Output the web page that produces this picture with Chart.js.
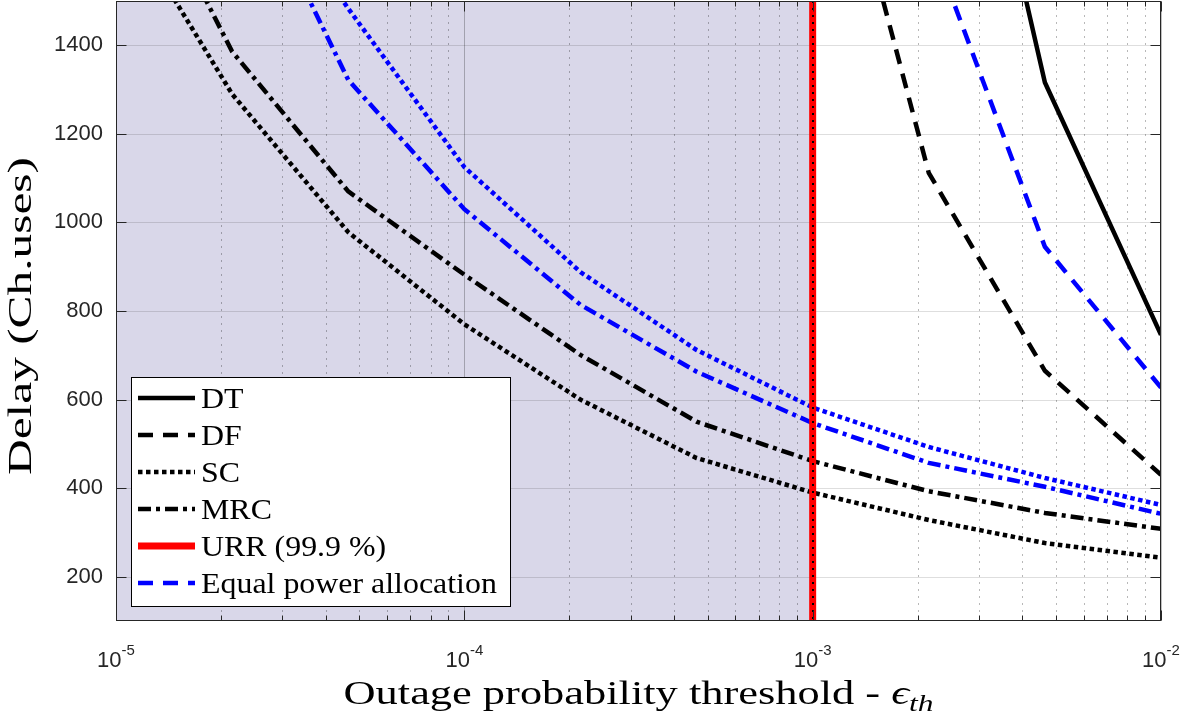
<!DOCTYPE html>
<html>
<head>
<meta charset="utf-8">
<script src="https://cdn.jsdelivr.net/npm/chart.js@4.4.1/dist/chart.umd.min.js"></script>
<style>
  html, body { margin: 0; padding: 0; background: #fff; }
</style>
</head>
<body>
<canvas id="delayChart" width="1181" height="716"></canvas>
<script>
// outage probability thresholds (x axis, log spaced)
var thresholds = [1e-5, 2.154e-5, 4.642e-5, 1e-4, 2.154e-4, 4.642e-4, 1e-3, 2.154e-3, 4.642e-3, 1e-2];

// delay in channel uses (null = far above the plot)
var delayDT  = [null, null, null, null, null, null, null, 2460, 1316, 746];
var delayDF  = [null, null, null, null, null, null, 2100, 1112, 665, 430];
var delaySC  = [1720, 1290, 978, 770, 600, 468, 390, 328, 276, 243];
var delayMRC = [1900, 1386, 1070, 882, 701, 550, 461, 393, 344, 308];

// equal power allocation variants
var delayEqDF  = [null, null, null, null, null, null, null, 1647, 945, 627];
var delayEqSC  = [null, 1870, 1483, 1125, 888, 712, 582, 493, 423, 362];
var delayEqMRC = [null, 1860, 1322, 1030, 814, 663, 547, 457, 403, 342];

var urrThreshold = 1e-3;
var urrSpan = [100, 1500];
var yTicks = [200, 400, 600, 800, 1000, 1200, 1400];
var xDecades = [1e-5, 1e-4, 1e-3, 1e-2];
var xExponents = ['-5', '-4', '-3', '-2'];

var DASH = [15, 10];
var DOT = [4.5, 3.5];
var DASHDOT = [13, 5, 4, 5];

function series(label, values, color, dash, extra) {
    return Object.assign({
        label: label,
        data: thresholds.map(function(t, i) { return {x: t, y: values[i]}; }),
        borderColor: color,
        borderWidth: 4.5,
        borderDash: dash,
        borderCapStyle: 'butt',
        pointRadius: 0,
        tension: 0,
        fill: false,
        clip: 0
    }, extra || {});
}

var datasets = [
    {
        label: 'URR (99.9 %)',
        data: urrSpan.map(function(v) { return {x: urrThreshold, y: v}; }),
        borderColor: '#ff0000',
        borderWidth: 7,
        pointRadius: 0,
        clip: 0,
        order: -1,
        legendPos: 4
    },
    series('DT', delayDT, '#000000', [], {legendPos: 0}),
    series('DF', delayDF, '#000000', DASH, {legendPos: 1}),
    series('SC', delaySC, '#000000', DOT, {legendPos: 2}),
    series('MRC', delayMRC, '#000000', DASHDOT, {legendPos: 3}),
    series('Equal power allocation', delayEqDF, '#0000ff', DASH, {legendPos: 5}),
    series('Equal power allocation (SC)', delayEqSC, '#0000ff', DOT),
    series('Equal power allocation (MRC)', delayEqMRC, '#0000ff', DASHDOT)
];

var axisColor = '#262626';

// background shading, grid lines, box, labels, legend
var gridPlugin = {
    id: 'gridPlugin',
    beforeDatasetsDraw: function(chart) {
        var ctx = chart.ctx, a = chart.chartArea;
        var xs = chart.scales.x, ys = chart.scales.y;
        ctx.save();
        ctx.fillStyle = '#ffffff';
        ctx.fillRect(a.left, a.top, a.right - a.left, a.bottom - a.top);

        // region below the URR target
        var s0 = xs.getPixelForValue(xDecades[0]);
        var s1 = xs.getPixelForValue(urrThreshold);
        ctx.fillStyle = '#d9d7e9';
        ctx.fillRect(s0, a.top, s1 - s0, a.bottom - a.top);

        // horizontal grid
        ctx.strokeStyle = 'rgba(0,0,0,0.13)';
        ctx.lineWidth = 1;
        yTicks.forEach(function(v) {
            var py = Math.round(ys.getPixelForValue(v)) + 0.5;
            ctx.beginPath();
            ctx.moveTo(a.left, py);
            ctx.lineTo(a.right, py);
            ctx.stroke();
        });

        // minor vertical grid (dotted)
        ctx.strokeStyle = 'rgba(0,0,0,0.28)';
        ctx.setLineDash([2, 5]);
        for (var d = 0; d < xDecades.length - 1; d++) {
            for (var m = 2; m <= 9; m++) {
                var px = Math.round(xs.getPixelForValue(m * xDecades[d])) + 0.5;
                ctx.beginPath();
                ctx.moveTo(px, a.top);
                ctx.lineTo(px, a.bottom);
                ctx.stroke();
            }
        }
        // major vertical grid
        ctx.setLineDash([]);
        ctx.strokeStyle = 'rgba(0,0,0,0.25)';
        xDecades.forEach(function(v) {
            var px = Math.round(xs.getPixelForValue(v)) + 0.5;
            ctx.beginPath();
            ctx.moveTo(px, a.top);
            ctx.lineTo(px, a.bottom);
            ctx.stroke();
        });
        ctx.restore();
    },
    afterDatasetsDraw: function(chart) {
        var ctx = chart.ctx, a = chart.chartArea;
        var xs = chart.scales.x, ys = chart.scales.y;
        ctx.save();

        // grid line drawn over the URR marker
        var ux = Math.round(xs.getPixelForValue(urrThreshold));
        ctx.strokeStyle = '#000';
        ctx.lineWidth = 2;
        ctx.setLineDash([2, 5]);
        ctx.beginPath();
        ctx.moveTo(ux, a.top);
        ctx.lineTo(ux, a.bottom);
        ctx.stroke();
        ctx.setLineDash([]);

        // axes box
        ctx.strokeStyle = axisColor;
        ctx.lineWidth = 1;
        var L = Math.round(a.left) + 0.5, R = Math.round(a.right) - 0.5;
        var T = Math.round(a.top) + 0.5, B = Math.round(a.bottom) - 0.5;
        ctx.strokeRect(L, T, R - L, B - T);

        // tick marks pointing inward
        ctx.beginPath();
        yTicks.forEach(function(v) {
            var py = Math.round(ys.getPixelForValue(v)) + 0.5;
            ctx.moveTo(L, py); ctx.lineTo(L + 10, py);
            ctx.moveTo(R, py); ctx.lineTo(R - 10, py);
        });
        for (var d = 0; d < xDecades.length; d++) {
            var px = Math.round(xs.getPixelForValue(xDecades[d])) + 0.5;
            ctx.moveTo(px, B); ctx.lineTo(px, B - 10);
            ctx.moveTo(px, T); ctx.lineTo(px, T + 10);
            if (d < xDecades.length - 1) {
                for (var m = 2; m <= 9; m++) {
                    var mx = Math.round(xs.getPixelForValue(m * xDecades[d])) + 0.5;
                    ctx.moveTo(mx, B); ctx.lineTo(mx, B - 5);
                    ctx.moveTo(mx, T); ctx.lineTo(mx, T + 5);
                }
            }
        }
        ctx.stroke();

        // x tick labels 10^n
        ctx.fillStyle = axisColor;
        ctx.textAlign = 'left';
        ctx.textBaseline = 'alphabetic';
        xDecades.forEach(function(v, i) {
            ctx.font = '22px "Liberation Sans", Arial, sans-serif';
            var bw = ctx.measureText('10').width;
            ctx.font = '15px "Liberation Sans", Arial, sans-serif';
            var ew = ctx.measureText(xExponents[i]).width;
            var px = xs.getPixelForValue(v);
            var start = px - (bw + ew) / 2;
            ctx.font = '22px "Liberation Sans", Arial, sans-serif';
            ctx.fillText('10', start, 667);
            ctx.font = '15px "Liberation Sans", Arial, sans-serif';
            ctx.fillText(xExponents[i], start + bw, 655);
        });

        // x axis label
        ctx.fillStyle = '#000';
        var parts = [
            {t: 'Outage probability threshold - ', font: '34px "Liberation Serif", serif', dy: 0},
            {t: '\u03F5', font: 'italic 34px "Liberation Serif", "DejaVu Serif", serif', dy: 0},
            {t: 'th', font: 'italic 24px "Liberation Serif", serif', dy: 7}
        ];
        var tw = 0;
        parts.forEach(function(p) { ctx.font = p.font; p.w = ctx.measureText(p.t).width; tw += p.w; });
        var targetW = 590;
        ctx.save();
        ctx.translate((a.left + a.right) / 2 - targetW / 2, 704);
        ctx.scale(targetW / tw, 1);
        var xx = 0;
        parts.forEach(function(p) { ctx.font = p.font; ctx.fillText(p.t, xx, p.dy); xx += p.w; });
        ctx.restore();

        // y axis label
        ctx.save();
        ctx.translate(31, 316);
        ctx.rotate(-Math.PI / 2);
        ctx.font = '33px "Liberation Serif", serif';
        var yl = 'Delay (Ch.uses)';
        var yw = ctx.measureText(yl).width;
        ctx.scale(318 / yw, 1);
        ctx.textAlign = 'center';
        ctx.fillText(yl, 0, 0);
        ctx.restore();

        // legend box
        var lg = {x: 131.5, y: 377.5, w: 379, h: 229};
        ctx.fillStyle = '#fff';
        ctx.fillRect(lg.x, lg.y, lg.w, lg.h);
        ctx.strokeStyle = '#000';
        ctx.lineWidth = 1;
        ctx.strokeRect(lg.x, lg.y, lg.w, lg.h);

        var entries = chart.data.datasets.filter(function(ds) { return ds.legendPos !== undefined; })
            .sort(function(p, q) { return p.legendPos - q.legendPos; });
        entries.forEach(function(ds, i) {
            var cy = 398 + i * 37;
            ctx.strokeStyle = ds.borderColor;
            ctx.lineWidth = ds.borderWidth;
            ctx.lineCap = 'butt';
            ctx.setLineDash(ds.borderDash || []);
            ctx.beginPath();
            ctx.moveTo(138, cy);
            ctx.lineTo(195, cy);
            ctx.stroke();
            ctx.setLineDash([]);
            ctx.save();
            ctx.translate(201, cy + 9.5);
            ctx.scale(1.1, 1);
            ctx.fillStyle = '#000';
            ctx.font = '29px "Liberation Serif", serif';
            ctx.fillText(ds.label, 0, 0);
            ctx.restore();
        });
        ctx.restore();
    }
};

var ctx = document.getElementById('delayChart').getContext('2d');
var delayChart = new Chart(ctx, {
    type: 'line',
    data: { datasets: datasets },
    options: {
        responsive: false,
        animation: false,
        devicePixelRatio: 1,
        layout: { padding: { left: 0, right: 20, top: 1, bottom: 0 } },
        plugins: {
            legend: { display: false },
            tooltip: { enabled: false }
        },
        scales: {
            x: {
                type: 'logarithmic',
                min: 1e-5,
                max: 1e-2,
                ticks: { display: false },
                grid: { display: false, drawTicks: false },
                border: { display: false },
                afterFit: function(s) {
                    s.height = 95;
                    s.paddingLeft = 0; s.paddingRight = 0;
                }
            },
            y: {
                type: 'linear',
                min: 100,
                max: 1500,
                afterBuildTicks: function(s) {
                    s.ticks = yTicks.map(function(v) { return {value: v}; });
                },
                ticks: {
                    color: axisColor,
                    padding: 13,
                    font: { family: '"Liberation Sans", Arial, sans-serif', size: 22 },
                    callback: function(v) { return String(v); }
                },
                grid: { display: false, drawTicks: false },
                border: { display: false },
                afterFit: function(s) {
                    s.width = 116;
                    s.paddingTop = 0; s.paddingBottom = 0;
                }
            }
        }
    },
    plugins: [gridPlugin]
});
</script>
</body>
</html>
